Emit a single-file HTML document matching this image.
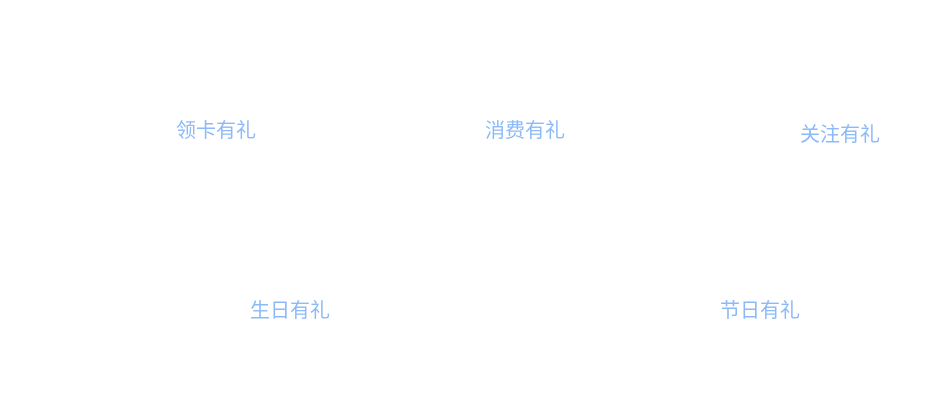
<!DOCTYPE html>
<html><head><meta charset="utf-8"><style>
html,body{margin:0;padding:0;background:#fff;width:950px;height:420px;overflow:hidden}
.t{position:absolute;font-family:"Liberation Sans","Noto Sans CJK SC",sans-serif;font-size:20px;line-height:20px;color:#8cb9f7;white-space:nowrap}
</style></head><body>
<div class="t" style="left:176px;top:121px">领卡有礼</div>
<div class="t" style="left:485px;top:121px">消费有礼</div>
<div class="t" style="left:800px;top:125px">关注有礼</div>
<div class="t" style="left:250px;top:301px">生日有礼</div>
<div class="t" style="left:720px;top:301px">节日有礼</div>
</body></html>
